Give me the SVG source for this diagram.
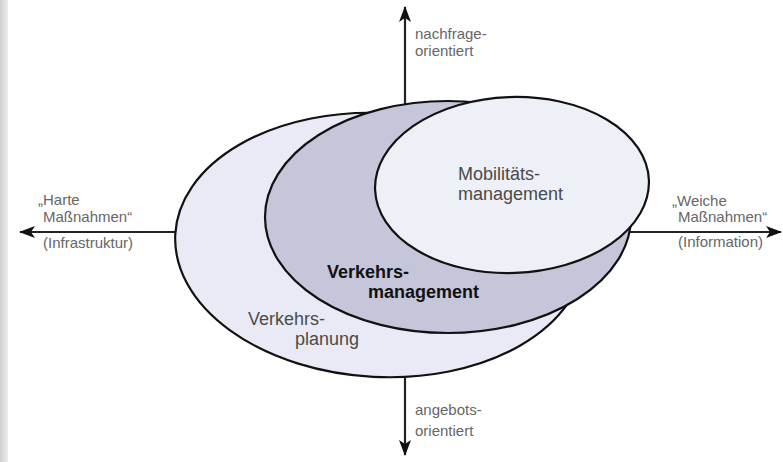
<svg xmlns="http://www.w3.org/2000/svg" width="783" height="462" viewBox="0 0 783 462">
  <defs>
    <linearGradient id="edge" x1="0" y1="0" x2="1" y2="0">
      <stop offset="0" stop-color="#cfcfcf"/>
      <stop offset="1" stop-color="#ececec"/>
    </linearGradient>
    <marker id="arrow" viewBox="0 0 16 12" refX="15" refY="6" markerWidth="16" markerHeight="12" markerUnits="userSpaceOnUse" orient="auto">
      <path d="M0,0 L16,6 L0,12 L4,6 Z" fill="#111"/>
    </marker>
    <style>
      .axis { stroke: #222; stroke-width: 2.2; fill: none; marker-end: url(#arrow); }
      .ell { stroke: #111; stroke-width: 2.2; }
      .lbl { font-family: "Liberation Sans", Arial, sans-serif; font-size: 15px; fill: #666; }
      .name { font-family: "Liberation Sans", Arial, sans-serif; font-size: 18px; fill: #4a4a4a; }
      .bold { font-family: "Liberation Sans", Arial, sans-serif; font-size: 18px; font-weight: bold; fill: #111; }
    </style>
  </defs>
  <rect x="0" y="0" width="783" height="462" fill="#ffffff"/>
  <rect x="0" y="0" width="8" height="462" fill="url(#edge)"/>

  <g id="connectors">
    <line class="axis" x1="405" y1="232" x2="405" y2="7"/>
    <line class="axis" x1="405" y1="232" x2="405" y2="455"/>
    <line class="axis" x1="405" y1="232" x2="20" y2="232"/>
    <line class="axis" x1="405" y1="232" x2="781" y2="232"/>
  </g>

  <g id="verkehrsplanung">
    <ellipse class="ell" cx="380" cy="245" rx="205" ry="132" transform="rotate(3 380 245)" fill="#e9eaf5"/>
    <text class="name" x="248" y="325" fill="#555">Verkehrs-</text>
    <text class="name" x="295" y="345" fill="#555">planung</text>
  </g>

  <g id="verkehrsmanagement">
    <ellipse class="ell" cx="448" cy="217" rx="183" ry="116" fill="#c5c6d9"/>
    <text class="bold" x="327" y="278">Verkehrs-</text>
    <text class="bold" x="368" y="298">management</text>
  </g>

  <g id="mobilitaetsmanagement">
    <ellipse class="ell" cx="512" cy="185" rx="137" ry="88" transform="rotate(-2 512 185)" fill="#eef0f8"/>
    <text class="name" x="458" y="180">Mobilitäts-</text>
    <text class="name" x="458" y="200">management</text>
  </g>

  <g id="label-top">
    <text class="lbl" x="415" y="39">nachfrage-</text>
    <text class="lbl" x="415" y="56">orientiert</text>
  </g>
  <g id="label-bottom">
    <text class="lbl" x="415" y="415">angebots-</text>
    <text class="lbl" x="415" y="436">orientiert</text>
  </g>
  <g id="label-left">
    <text class="lbl" x="38" y="205">„Harte</text>
    <text class="lbl" x="43" y="222">Maßnahmen“</text>
    <text class="lbl" x="43" y="248">(Infrastruktur)</text>
  </g>
  <g id="label-right">
    <text class="lbl" x="672" y="206">„Weiche</text>
    <text class="lbl" x="678" y="222">Maßnahmen“</text>
    <text class="lbl" x="678" y="247">(Information)</text>
  </g>
</svg>
